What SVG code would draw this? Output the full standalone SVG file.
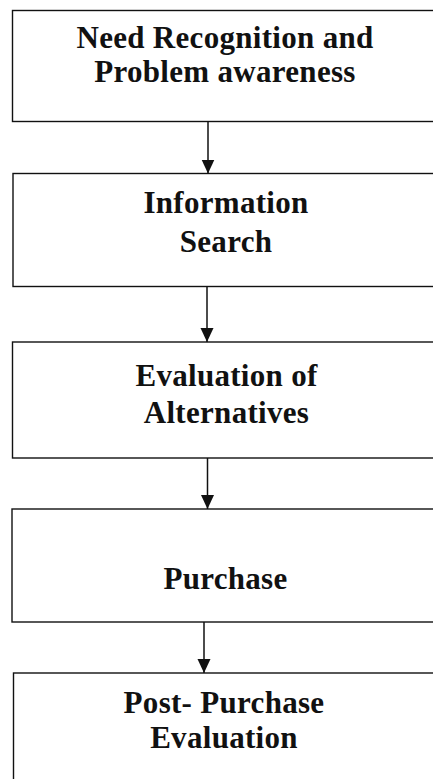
<svg xmlns="http://www.w3.org/2000/svg" width="433" height="779" viewBox="0 0 433 779">
<defs>
<style>
.box{fill:#fff;stroke:#111;stroke-width:1.4}
.t{font-family:"Liberation Serif","Times New Roman",serif;font-weight:bold;font-size:31px;fill:#111;text-anchor:middle;letter-spacing:0.3px}
.c{stroke:#111;stroke-width:1.5;fill:none}
</style>
<marker id="ah" markerWidth="14" markerHeight="14" refX="14" refY="7" orient="auto" markerUnits="userSpaceOnUse" viewBox="0 0 14 14">
<path d="M0,0.5 L14,7 L0,13.5 Z" fill="#111"/>
</marker>
</defs>
<rect width="433" height="779" fill="#fff"/>
<g id="node1">
<rect class="box" x="12.5" y="10.5" width="440" height="111"/>
<text class="t" x="225" y="48">Need Recognition and</text>
<text class="t" x="225" y="82">Problem awareness</text>
</g>
<g id="node2">
<rect class="box" x="13" y="173.5" width="440" height="113"/>
<text class="t" x="226" y="213">Information</text>
<text class="t" x="226" y="252">Search</text>
</g>
<g id="node3">
<rect class="box" x="12.5" y="342" width="440" height="116"/>
<text class="t" x="226.5" y="385.5">Evaluation of</text>
<text class="t" x="226.5" y="423">Alternatives</text>
</g>
<g id="node4">
<rect class="box" x="12" y="509" width="440" height="113"/>
<text class="t" x="225.5" y="589">Purchase</text>
</g>
<g id="node5">
<rect class="box" x="13.5" y="673" width="440" height="130"/>
<text class="t" x="224" y="713">Post- Purchase</text>
<text class="t" x="224" y="748">Evaluation</text>
</g>
<g id="connectors">
<line class="c" x1="208" y1="121.5" x2="208" y2="173.5" marker-end="url(#ah)"/>
<line class="c" x1="207" y1="286.5" x2="207" y2="342" marker-end="url(#ah)"/>
<line class="c" x1="207.5" y1="458" x2="207.5" y2="509" marker-end="url(#ah)"/>
<line class="c" x1="204" y1="622" x2="204" y2="673" marker-end="url(#ah)"/>
</g>
</svg>
